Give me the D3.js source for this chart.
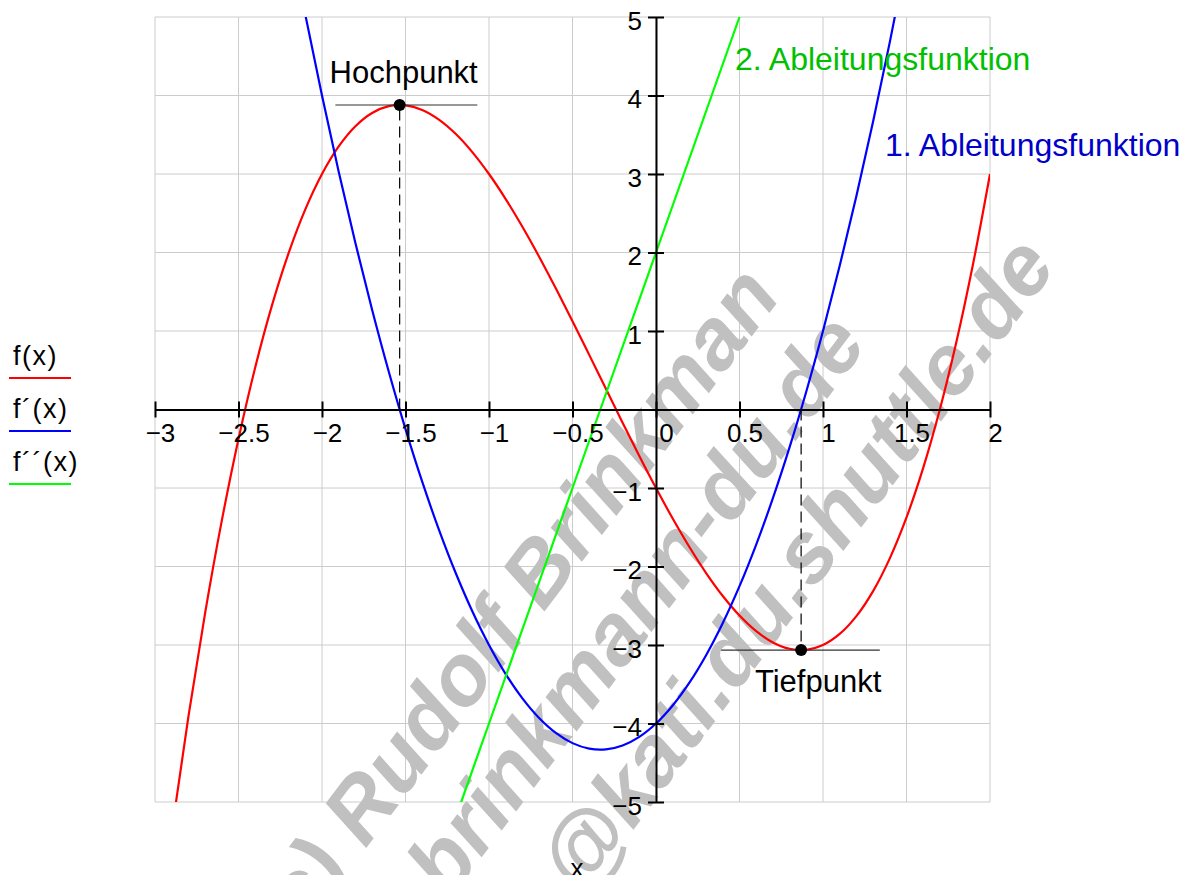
<!DOCTYPE html>
<html>
<head>
<meta charset="utf-8">
<script src="https://cdn.jsdelivr.net/npm/d3@7"></script>
<style>
  html, body { margin: 0; padding: 0; background: #fff; }
  svg { display: block; }
  text { font-family: "Liberation Sans", Arial, sans-serif; }
</style>
</head>
<body>
<svg id="chart" width="1181" height="875"></svg>
<script>
// ---- data ----
const xs = [-3.0,-2.9,-2.8,-2.7,-2.6,-2.5,-2.4,-2.3,-2.2,-2.1,-2.0,-1.9,-1.8,-1.7,-1.6,-1.5,-1.4,-1.3,-1.2,-1.1,-1.0,-0.9,-0.8,-0.7,-0.6,-0.5,-0.4,-0.3,-0.2,-0.1,0.0,0.1,0.2,0.3,0.4,0.5,0.6,0.7,0.8,0.9,1.0,1.1,1.2,1.3,1.4,1.5,1.6,1.7,1.8,1.9,2.0];
const fVals = [-7,-5.379,-3.912,-2.593,-1.416,-0.375,0.536,1.323,1.992,2.549,3,3.351,3.608,3.777,3.864,3.875,3.816,3.693,3.512,3.279,3,2.681,2.328,1.947,1.544,1.125,0.696,0.263,-0.168,-0.591,-1,-1.389,-1.752,-2.083,-2.376,-2.625,-2.824,-2.967,-3.048,-3.061,-3,-2.859,-2.632,-2.313,-1.896,-1.375,-0.744,0.003,0.872,1.869,3];
const f1Vals = [17,15.43,13.92,12.47,11.08,9.75,8.48,7.27,6.12,5.03,4,3.03,2.12,1.27,0.48,-0.25,-0.92,-1.53,-2.08,-2.57,-3,-3.37,-3.68,-3.93,-4.12,-4.25,-4.32,-4.33,-4.28,-4.17,-4,-3.77,-3.48,-3.13,-2.72,-2.25,-1.72,-1.13,-0.48,0.23,1,1.83,2.72,3.67,4.68,5.75,6.88,8.07,9.32,10.63,12];
const f2X = [-1.5,-1,-0.5,0,0.5,1];
const f2Vals = [-7,-4,-1,2,5,8];

const xTicks = [-3,-2.5,-2,-1.5,-1,-0.5,0,0.5,1,1.5,2];
const xTickLabels = ["\u22123","\u22122.5","\u22122","\u22121.5","\u22121","\u22120.5","0","0.5","1","1.5","2"];
const yTicks = [-5,-4,-3,-2,-1,0,1,2,3,4,5];
const yTickLabels = ["\u22125","\u22124","\u22123","\u22122","\u22121","","1","2","3","4","5"];

const extremaX = [-1.535, 0.869];
const extremaY = [3.879, -3.065];
const extremaNames = ["Hochpunkt", "Tiefpunkt"];
const tangentFrom = [-1.92, 0.39];
const tangentTo = [-1.07, 1.34];

const legendLabels = ["f(x)", "f\u00b4(x)", "f\u00b4\u00b4(x)"];
const seriesColors = ["#ff0000", "#0000ff", "#00ff00"];
const curveNames = ["2. Ableitungsfunktion", "1. Ableitungsfunktion"];
const watermarkLines = ["(c) Rudolf Brinkman", "brinkmann-du.de", "@kati.du.shuttle.de"];

// ---- layout ----
const svg = d3.select("#chart");
const x = d3.scaleLinear().domain([-3, 2]).range([155, 990]);
const y = d3.scaleLinear().domain([-5, 5]).range([802, 17]);

svg.append("rect").attr("width", 1181).attr("height", 875).attr("fill", "#fff");

// grid
const grid = svg.append("g").attr("stroke", "#cccccc").attr("stroke-width", 1);
grid.selectAll("line.v").data(xTicks).join("line")
  .attr("x1", d => x(d)).attr("x2", d => x(d)).attr("y1", y(5)).attr("y2", y(-5));
grid.selectAll("line.h").data(yTicks).join("line")
  .attr("y1", d => y(d)).attr("y2", d => y(d)).attr("x1", x(-3)).attr("x2", x(2));

// watermark
const wmPos = [[535, 624], [659, 622], [820, 582]];
svg.append("g").selectAll("text").data(watermarkLines).join("text")
  .attr("transform", (d, i) => `translate(${wmPos[i][0]},${wmPos[i][1]}) rotate(-53)`)
  .attr("text-anchor", "middle")
  .attr("font-size", 86).attr("font-weight", "bold").attr("font-style", "italic")
  .attr("fill", "#c0c0c0")
  .text(d => d);

// curves
svg.append("clipPath").attr("id", "plotclip").append("rect")
  .attr("x", x(-3)).attr("y", y(5)).attr("width", x(2) - x(-3)).attr("height", y(-5) - y(5));
const line = d3.line().x(d => x(d[0])).y(d => y(d[1])).curve(d3.curveCatmullRom);
const curves = svg.append("g").attr("clip-path", "url(#plotclip)").attr("fill", "none").attr("stroke-width", 2.2);
curves.append("path").attr("d", line(xs.map((v, i) => [v, fVals[i]]))).attr("stroke", seriesColors[0]);
curves.append("path").attr("d", line(xs.map((v, i) => [v, f1Vals[i]]))).attr("stroke", seriesColors[1]);
curves.append("path").attr("d", line(f2X.map((v, i) => [v, f2Vals[i]]))).attr("stroke", seriesColors[2]);

// x axis
const xAxis = svg.append("g").attr("transform", `translate(0,${y(0)})`)
  .call(d3.axisBottom(x).tickValues(xTicks).tickFormat((d, i) => xTickLabels[i]).tickSizeOuter(0));
xAxis.select(".domain").attr("stroke", "#000").attr("stroke-width", 2);
xAxis.selectAll(".tick line").attr("y1", -8).attr("y2", 8).attr("stroke", "#000").attr("stroke-width", 2);
xAxis.selectAll(".tick text").attr("y", 32).attr("dy", 0)
  .attr("x", d => d === 0 ? 10 : 5)
  .attr("font-size", 26).attr("fill", "#000").attr("font-family", "Liberation Sans, Arial, sans-serif");

// y axis
const yAxis = svg.append("g").attr("transform", `translate(${x(0)},0)`)
  .call(d3.axisLeft(y).tickValues(yTicks).tickFormat((d, i) => yTickLabels[i]).tickSizeOuter(0));
yAxis.select(".domain").attr("stroke", "#000").attr("stroke-width", 2);
yAxis.selectAll(".tick line").attr("x1", -8).attr("x2", 8).attr("stroke", "#000").attr("stroke-width", 2);
yAxis.selectAll(".tick text").attr("x", -14).attr("dy", 0).attr("y", 12)
  .attr("font-size", 26).attr("fill", "#000").attr("font-family", "Liberation Sans, Arial, sans-serif");

// extrema annotations
const ann = svg.append("g");
extremaX.forEach((ex, i) => {
  ann.append("line").attr("x1", x(tangentFrom[i])).attr("x2", x(tangentTo[i]))
    .attr("y1", y(extremaY[i])).attr("y2", y(extremaY[i])).attr("stroke", "#333").attr("stroke-width", 1.2);
  ann.append("line").attr("x1", x(ex)).attr("x2", x(ex))
    .attr("y1", y(0)).attr("y2", y(extremaY[i])).attr("stroke", "#000").attr("stroke-width", 1.2)
    .attr("stroke-dasharray", "11,6");
  ann.append("circle").attr("cx", x(ex)).attr("cy", y(extremaY[i])).attr("r", 6).attr("fill", "#000");
});
ann.append("text").attr("x", x(extremaX[0]) + 4).attr("y", y(extremaY[0]) - 22)
  .attr("text-anchor", "middle").attr("font-size", 31).text(extremaNames[0]);
ann.append("text").attr("x", x(extremaX[1]) + 17).attr("y", y(extremaY[1]) + 42)
  .attr("text-anchor", "middle").attr("font-size", 31).text(extremaNames[1]);

// curve labels
svg.append("text").attr("x", 735).attr("y", 70).attr("font-size", 32).attr("fill", "#00c000").text(curveNames[0]);
svg.append("text").attr("x", 885).attr("y", 156).attr("font-size", 32).attr("fill", "#0000c8").text(curveNames[1]);

// legend
const leg = svg.append("g");
legendLabels.forEach((lab, i) => {
  const by = 365 + i * 53;
  leg.append("text").attr("x", 13).attr("y", by).attr("font-size", 27).attr("letter-spacing", 1.5).text(lab);
  leg.append("line").attr("x1", 9).attr("x2", 71).attr("y1", by + 13).attr("y2", by + 13)
    .attr("stroke", seriesColors[i]).attr("stroke-width", 2);
});

// x axis title
svg.append("text").attr("x", 577).attr("y", 877).attr("text-anchor", "middle").attr("font-size", 26).text("x");
</script>
</body>
</html>
